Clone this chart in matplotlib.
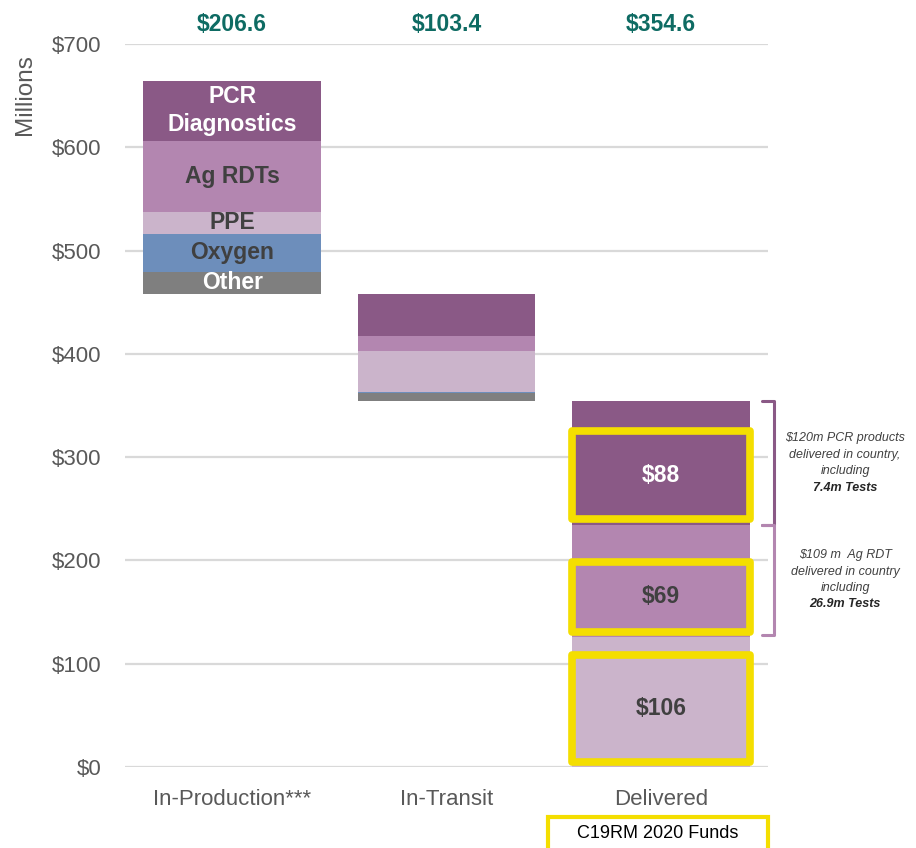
import matplotlib.pyplot as plt
from matplotlib.patches import Rectangle

plt.rcParams['font.family'] = ['Liberation Sans', 'DejaVu Sans']

categories = ["In-Production***", "In-Transit", "Delivered"]
totals = [206.6, 103.4, 354.6]

# stacked segments, bottom to top (millions USD)
other = [21.6, 7.2, 0.0]
oxygen = [36.7, 1.5, 0.0]
ppe = [21.3, 39.4, 125.6]
ag_rdt = [68.5, 14.9, 109.0]
pcr = [58.5, 40.4, 120.0]

seg_names = ["Other", "Oxygen", "PPE", "Ag RDTs", "PCR\nDiagnostics"]
seg_values = [other, oxygen, ppe, ag_rdt, pcr]
seg_colors = ["#7F7F7F", "#6D8EBB", "#CBB4CB", "#B386B0", "#8A5986"]
seg_text = ["white", "#404040", "#404040", "#404040", "white"]

# C19RM 2020 funded parts of the delivered bar (low, high, label)
box_low = [5, 131, 240]
box_high = [108, 198.5, 325]
box_labels = ["$106", "$69", "$88"]
box_text = ["#404040", "#404040", "white"]

# side notes: lines and their heights
note1 = ["$120m PCR products", "delivered in country,", "including", "7.4m Tests"]
note1_y = [318.5, 302.1, 286.6, 270.1]
note2 = ["$109 m  Ag RDT", "delivered in country", "including", "26.9m Tests"]
note2_y = [205.2, 188.8, 173.3, 157.8]

# waterfall bases: each bar sits on top of the ones to its right
bases = [totals[1] + totals[2], totals[2], 0.0]

teal = "#0E6B63"
yellow = "#F4DE00"
grey = "#595959"

fig = plt.figure(figsize=(9.16, 8.48), dpi=100)
ax = fig.add_axes([125 / 916, 1 - 767 / 848, 643 / 916, 723 / 848])

x = list(range(len(categories)))
w = 0.83
bottom = list(bases)
for vals, col in zip(seg_values, seg_colors):
    ax.bar(x, vals, w, bottom=bottom, color=col, linewidth=0, zorder=2)
    bottom = [b + v for b, v in zip(bottom, vals)]

# labels inside the first bar
b = bases[0]
for name, vals, tc in zip(seg_names, seg_values, seg_text):
    ax.text(0, b + vals[0] / 2, name, ha="center", va="center", color=tc,
            fontsize=16.5, fontweight="bold", zorder=4, linespacing=1.3)
    b += vals[0]

# totals above
for xi, t in zip(x, totals):
    ax.text(xi, 718.5, f"${t:.1f}", ha="center", va="center", color=teal,
            fontsize=16.5, fontweight="bold", clip_on=False)

# yellow highlight boxes on delivered bar
for lo, hi, lab, tc in zip(box_low, box_high, box_labels, box_text):
    r = Rectangle((2 - w / 2, lo), w, hi - lo, fill=False, edgecolor=yellow,
                  linewidth=5.5, joinstyle="round", zorder=3, clip_on=False)
    ax.add_patch(r)
    ax.text(2, (lo + hi) / 2, lab, ha="center", va="center", color=tc,
            fontsize=16.5, fontweight="bold", zorder=4)

# brackets at the right of delivered bar
pcr_lo = ppe[2] + ag_rdt[2]
brackets = [(pcr_lo, totals[2], "#8A5986"), (ppe[2] + 2, pcr_lo, "#B386B0")]
for lo, hi, col in brackets:
    ax.plot([2.47, 2.53, 2.53, 2.47], [hi, hi, lo, lo], color=col, lw=2.2,
            solid_joinstyle="round", solid_capstyle="round", clip_on=False)

for lines, ys in [(note1, note1_y), (note2, note2_y)]:
    for i, (txt, yy) in enumerate(zip(lines, ys)):
        last = i == len(lines) - 1
        ax.text(2.86, yy, txt, ha="center", va="center", fontsize=9,
                style="italic", fontweight="bold" if last else "normal",
                color="#262626" if last else "#404040", clip_on=False)

ax.set_xlim(-0.5, 2.5)
ax.set_ylim(0, 700)
ax.set_yticks(range(0, 701, 100))
ax.set_yticklabels([f"${v}" for v in range(0, 701, 100)])
ax.set_xticks(x)
ax.set_xticklabels(categories)
ax.tick_params(axis="both", length=0, labelsize=16, labelcolor=grey)
ax.tick_params(axis="y", pad=17)
ax.tick_params(axis="x", pad=16)
ax.grid(axis="y", color="#D9D9D9", lw=1.6, zorder=0)
ax.set_axisbelow(True)
for s in ax.spines.values():
    s.set_visible(False)

fig.text(25 / 916, 1 - 95 / 848, "Millions", rotation=90, ha="center",
         va="center", fontsize=17.5, color=grey)

# funds legend box at the bottom
fig.patches.append(Rectangle((548 / 916, -0.05), 220 / 916, 0.05 + 31 / 848,
                             transform=fig.transFigure, fill=False,
                             edgecolor=yellow, linewidth=3, zorder=5))
fig.text(658 / 916, 1 - 833 / 848, "C19RM 2020 Funds", ha="center",
         va="center", fontsize=13, color="black")

fig.savefig("out.png", dpi=100)
